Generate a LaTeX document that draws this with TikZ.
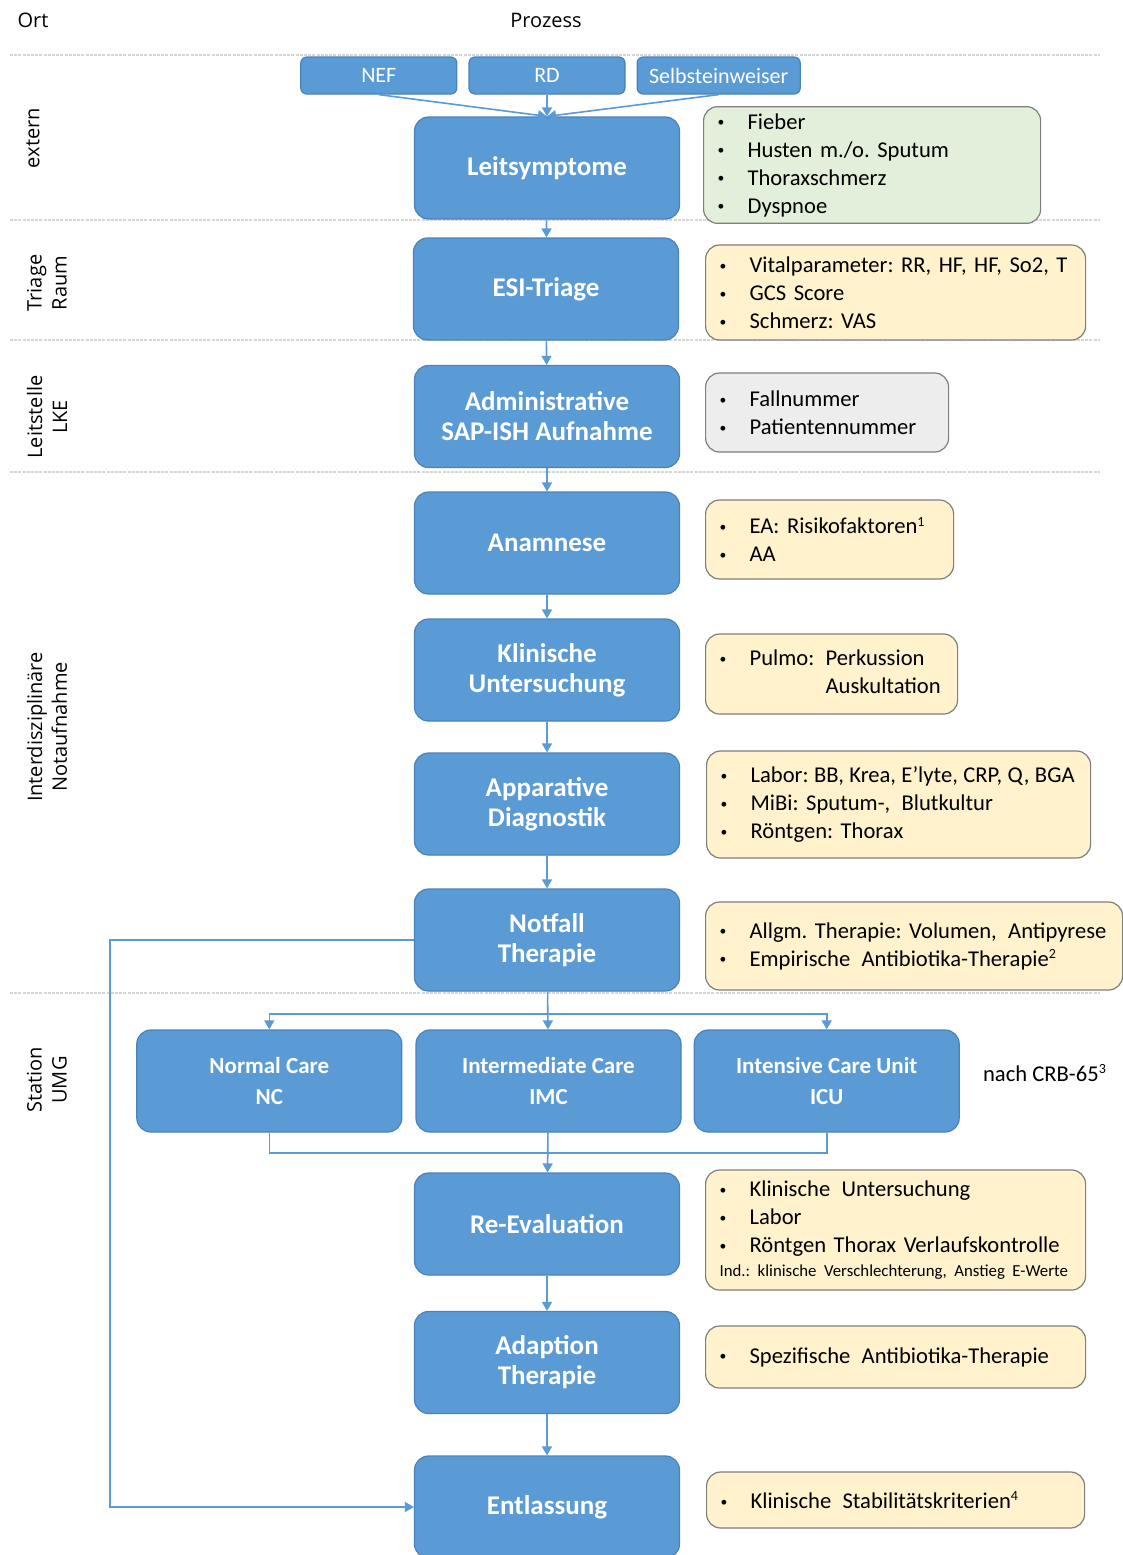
\documentclass[tikz,border=0pt]{standalone}
\usepackage{fontspec}
\setmainfont{Carlito}
\newfontfamily\ortfont{Open Sans}
\usetikzlibrary{positioning,arrows.meta}
\frenchspacing

\definecolor{prozessblau}{HTML}{5B9BD5}
\definecolor{prozessrand}{HTML}{4A83BA}
\definecolor{infogelb}{HTML}{FFF2CC}
\definecolor{infogruen}{HTML}{E2EFDA}
\definecolor{infograu}{HTML}{EDEDED}
\definecolor{inforand}{HTML}{7F7F7F}
\definecolor{trenngrau}{HTML}{D6D6D6}

\newcommand{\punkt}[1]{\mbox{\makebox[15pt][l]{\raisebox{0.2ex}{\scalebox{0.6}{\textbullet}}}#1}}
\newcommand{\hoch}[1]{\textsuperscript{\fontsize{7}{7}\selectfont #1}}
\newcommand{\eng}{\spaceskip=2.7pt\relax}

\tikzset{
  prozess/.style={rectangle, rounded corners=7pt, fill=prozessblau, draw=prozessrand,
    line width=0.6pt, text=white, align=center, minimum width=132.5pt, minimum height=51pt,
    font=\fontsize{13.5}{15}\selectfont\bfseries},
  zugang/.style={rectangle, rounded corners=3pt, fill=prozessblau, draw=prozessrand,
    line width=0.6pt, text=white, minimum width=78pt, minimum height=18.5pt,
    font=\fontsize{11}{12}\selectfont},
  station/.style={prozess, font=\fontsize{11.5}{15.5}\selectfont\bfseries},
  info/.style={rectangle, rounded corners=7pt, draw=inforand, line width=0.6pt,
    fill=infogelb, anchor=west, align=left, inner xsep=7pt,
    font=\fontsize{11.3}{14}\selectfont},
  ort/.style={font=\ortfont\fontsize{10}{12.5}\selectfont, align=center},
  pfeil/.style={draw=prozessblau, line width=0.8pt, -{Triangle[width=5pt,length=4.5pt]}},
  linie/.style={draw=prozessblau, line width=0.8pt},
  trenner/.style={draw=trenngrau, line width=1pt, dash pattern=on 1.5pt off 0.6pt}
}

\begin{document}
\begin{tikzpicture}[x=0.5pt,y=-0.5pt]
  \path[use as bounding box, fill=white] (0,0) rectangle (1123,1555);

  % Kopfzeile und Trennlinien
  \node[ort] (ortkopf) at (33,20) {Ort};
  \node[ort] (prozesskopf) at (546,20) {Prozess};
  \foreach \y in {55,220,340,472,993}
    \draw[trenner] (10,\y) -- (1100,\y);

  % Orte
  \node[ort, rotate=90] (lextern) at (33,138) {extern};
  \node[ort, rotate=90] (ltriage) at (47,283) {Triage\\Raum};
  \node[ort, rotate=90] (llke) at (47,417) {Leitstelle\\LKE};
  \node[ort, rotate=90] (lzna) at (47,727) {Interdisziplinäre\\Notaufnahme};
  \node[ort, rotate=90] (lumg) at (47,1080) {Station\\UMG};

  % Zugang
  \node[zugang] (rd) at (547,75.5) {RD};
  \node[zugang, left=5.5pt of rd] (nef) {NEF};
  \node[zugang, right=5.5pt of rd, minimum width=81.5pt] (selbst) {Selbsteinweiser};

  % Prozess
  \node[prozess] (leit) at (547,168) {Leitsymptome};
  \node[prozess] (esi) at (546,289) {ESI-Triage};
  \node[prozess] (admin) at (547,416.5) {Administrative\\SAP-ISH Aufnahme};
  \node[prozess] (anamnese) at (547,543) {Anamnese};
  \node[prozess] (klinik) at (547,670) {Klinische\\Untersuchung};
  \node[prozess] (apparativ) at (547,804) {Apparative\\Diagnostik};
  \node[prozess] (notfall) at (547,940) {Notfall\\Therapie};
  \node[station] (imc) at (548.5,1081) {Intermediate Care\\IMC};
  \node[station, left=6.5pt of imc] (nc) {Normal Care\\NC};
  \node[station, right=6pt of imc] (icu) {Intensive Care Unit\\ICU};
  \node[prozess] (reeval) at (547,1224) {Re-Evaluation};
  \node[prozess] (adaption) at (547,1362.5) {Adaption\\Therapie};
  \node[prozess] (entlassung) at (547,1507) {Entlassung};

  % Details
  \node[info, fill=infogruen, text width=154.5pt, minimum height=55pt] (leitinfo) at (703,165)
    {\punkt{Fieber}\\\punkt{Husten m./o. Sputum}\\\punkt{Thoraxschmerz}\\\punkt{Dyspnoe}};
  \node[info, text width=176pt, minimum height=47.5pt] (esiinfo) at (705,292.5)
    {\punkt{Vitalparameter: RR, HF, HF, So2, T}\\\punkt{GCS Score}\\\punkt{Schmerz: VAS}};
  \node[info, fill=infograu, text width=107.5pt, minimum height=39.5pt] (admininfo) at (705,412.5)
    {\punkt{Fallnummer}\\\punkt{Patientennummer}};
  \node[info, text width=110pt, minimum height=39.5pt] (anamneseinfo) at (705,539.5)
    {\punkt{EA: Risikofaktoren\hoch{1}}\\\punkt{AA}};
  \node[info, text width=112pt, minimum height=40pt] (klinikinfo) at (705,674)
    {\punkt{Pulmo:\enspace\begin{tabular}[t]{@{}l@{}}Perkussion\\Auskultation\end{tabular}}};
  \node[info, text width=178pt, minimum height=53.5pt] (apparativinfo) at (706,804.5)
    {\punkt{\eng Labor: BB, Krea, E'lyte, CRP, Q, BGA}\\\punkt{MiBi: Sputum-,\enspace Blutkultur}\\\punkt{Röntgen: Thorax}};
  \node[info, text width=194.5pt, minimum height=44pt] (notfallinfo) at (705,946)
    {\punkt{Allgm. Therapie: Volumen,\enspace Antipyrese}\\\punkt{Empirische\enspace Antibiotika-Therapie\hoch{2}}};
  \node[font=\fontsize{11.3}{14}\selectfont] (crb) at (1045,1073) {nach CRB-65\hoch{3}};
  \node[info, text width=176pt, minimum height=60pt] (reevalinfo) at (705,1230)
    {\punkt{Klinische\enspace Untersuchung}\\\punkt{Labor}\\\punkt{Röntgen Thorax Verlaufskontrolle}\\[-2pt]
     \mbox{\fontsize{8.4}{9}\selectfont Ind.: klinische Verschlechterung, Anstieg E-Werte}};
  \node[info, text width=176pt, minimum height=31pt] (adaptioninfo) at (705,1357)
    {\punkt{Spezifische\enspace Antibiotika-Therapie}};
  \node[info, text width=175pt, minimum height=28pt] (entlassunginfo) at (706,1500)
    {\punkt{Klinische\enspace Stabilitätskriterien\hoch{4}}};

  % Verbindungen
  \draw[pfeil] (nef.south) -- (leit.north);
  \draw[pfeil] (rd) -- (leit);
  \draw[pfeil] (selbst.south) -- (leit.north);
  \draw[pfeil] (leit) -- (esi);
  \draw[pfeil] (esi) -- (admin);
  \draw[pfeil] (admin) -- (anamnese);
  \draw[pfeil] (anamnese) -- (klinik);
  \draw[pfeil] (klinik) -- (apparativ);
  \draw[pfeil] (apparativ) -- (notfall);

  \coordinate (verteiler) at (547,1014);
  \draw[pfeil] (notfall) -- (imc);
  \draw[pfeil] (verteiler) -| (nc);
  \draw[pfeil] (verteiler) -| (icu);

  \coordinate (sammler) at (547,1153);
  \draw[linie] (nc) |- (sammler);
  \draw[linie] (icu) |- (sammler);
  \draw[pfeil] (imc) -- (reeval);
  \draw[pfeil] (reeval) -- (adaption);
  \draw[pfeil] (adaption) -- (entlassung);

  \coordinate (ruecklauf) at (110,940);
  \draw[pfeil] (notfall) -- (ruecklauf) |- (entlassung);
\end{tikzpicture}
\end{document}
